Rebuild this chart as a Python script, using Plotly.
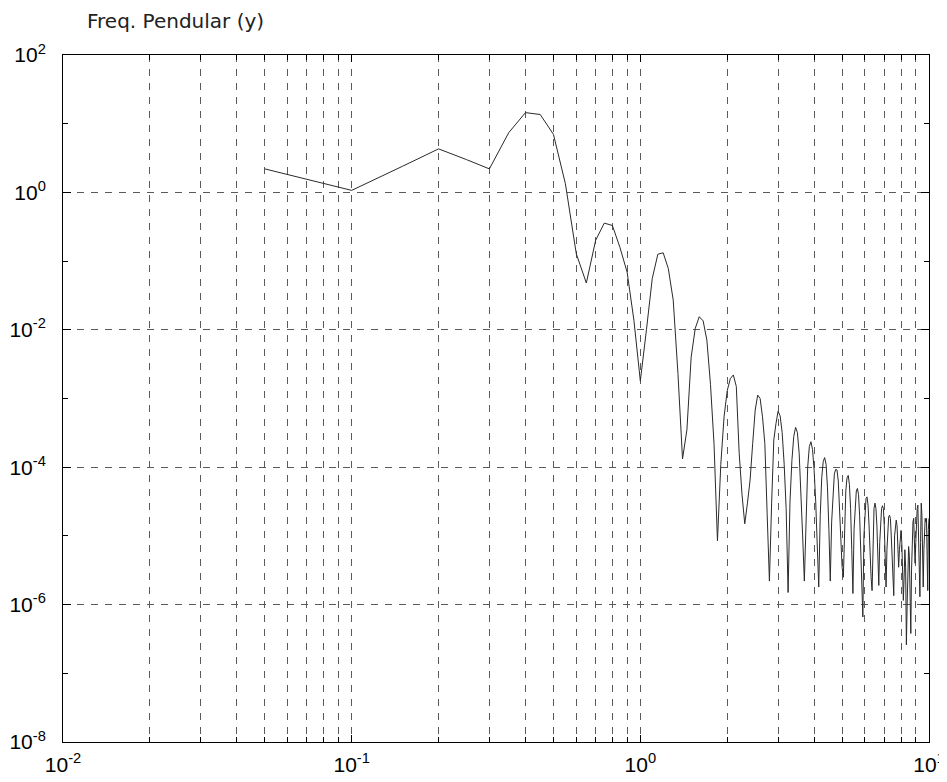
import plotly.graph_objects as go

# frequency samples (Hz)
freq_step = 0.05
freqs = [round(freq_step * k, 2) for k in range(1, 201)]

# amplitude, one per frequency sample
amp_low = [
    2.2, 1.07, 2.4, 4.3, 3.0, 2.2, 7.4, 14.5, 13.6, 7.0,
    1.34, 0.128, 0.048, 0.2, 0.357, 0.33, 0.158, 0.069, 0.0138, 1.8e-3,
    1.0e-2, 0.056, 0.126, 0.132, 0.078, 0.027, 2.3e-3, 1.32e-4, 3.5e-4, 4.0e-3,
    1.05e-2, 1.55e-2, 1.35e-2, 7.1e-3, 1.6e-3, 2.2e-4, 8.5e-6, 1.1e-4, 5.4e-4, 1.3e-3,
    1.95e-3, 2.2e-3, 1.5e-3, 1.6e-4, 4.0e-5, 1.5e-5, 3.0e-5, 6.5e-5, 2.2e-4, 6.8e-4,
]
amp_mid = [
    1.12e-3, 1.0e-3, 5.4e-4, 2.2e-4, 2.1e-5, 2.2e-6, 3.0e-5, 2.5e-4, 4.3e-4, 6.5e-4,
    5.6e-4, 3.2e-4, 1.1e-4, 2.5e-5, 1.5e-6, 3.2e-5, 1.25e-4, 2.8e-4, 3.8e-4, 3.2e-4,
    1.6e-4, 5.0e-5, 1.0e-5, 2.2e-6, 2.5e-5, 1.0e-4, 2.0e-4, 2.35e-4, 1.8e-4, 9.0e-5,
    3.2e-5, 8.0e-6, 1.8e-6, 2.0e-5, 7.0e-5, 1.2e-4, 1.38e-4, 1.1e-4, 5.0e-5, 1.25e-5,
    2.2e-6, 1.6e-5, 4.5e-5, 8.0e-5, 9.3e-5, 9.1e-5, 6.3e-5, 2.5e-5, 6.3e-6, 3.5e-6,
]
amp_high1 = [
    2.5e-6, 1.6e-5, 4.5e-5, 7.0e-5, 7.6e-5, 5.6e-5, 2.5e-5, 6.3e-6, 1.45e-6, 1.25e-5,
    3.2e-5, 4.5e-5, 4.9e-5, 4.0e-5, 2.0e-5, 6.3e-6, 2.0e-6, 6.6e-7, 1.0e-5, 2.5e-5,
    3.5e-5, 3.7e-5, 2.8e-5, 1.4e-5, 5.0e-6, 2.5e-6, 1.6e-6, 1.25e-5, 2.5e-5, 3.0e-5,
    2.5e-5, 1.4e-5, 5.0e-6, 1.9e-6, 8.0e-6, 1.8e-5, 2.5e-5, 2.75e-5, 2.5e-5, 1.4e-5,
    5.0e-6, 1.8e-6, 6.3e-6, 1.4e-5, 1.9e-5, 2.0e-5, 1.8e-5, 1.0e-5, 4.0e-6, 2.0e-6,
]
amp_high2 = [
    1.35e-6, 1.0e-5, 1.6e-5, 1.7e-5, 1.4e-5, 8.0e-6, 3.5e-6, 6.3e-6, 1.1e-5, 1.2e-5,
    8.0e-6, 3.2e-6, 1.15e-6, 2.5e-6, 6.3e-6, 3.5e-6, 2.6e-7, 1.0e-6, 4.5e-6, 7.0e-6,
    5.0e-6, 2.0e-6, 3.8e-7, 3.2e-6, 1.0e-5, 1.6e-5, 1.8e-5, 1.0e-5, 4.0e-6, 8.0e-6,
    1.6e-5, 2.5e-5, 2.8e-5, 1.25e-5, 3.2e-6, 1.3e-6, 8.0e-6, 3.0e-5, 2.0e-5, 6.3e-6,
    1.8e-6, 6.3e-6, 1.25e-5, 1.8e-5, 1.6e-5, 1.8e-5, 5.0e-6, 1.6e-6, 1.25e-5, 1.8e-5,
]
amplitude = amp_low + amp_mid + amp_high1 + amp_high2

title_text = "Freq. Pendular (y)"
x_decades = [-2, -1, 0, 1]
x_minor_decades = [-2, -1, 0]
y_decades = [-8, -6, -4, -2, 0, 2]
y_minor_decades = [-7, -5, -3, -1, 1]

x_tickvals = [10.0 ** d for d in x_decades]
x_ticktext = [f"10<sup>{d}</sup>" for d in x_decades]
x_minorvals = [m * 10.0 ** d for d in x_minor_decades for m in range(2, 10)]

y_tickvals = [10.0 ** d for d in y_decades]
y_ticktext = [f"10<sup>{d}</sup>" for d in y_decades]
y_minorvals = [10.0 ** d for d in y_minor_decades]

font_family = "Liberation Sans, Arial, Helvetica, sans-serif"
grid_color = "#5a5a5a"
grid_dash = "7px,7px"

fig = go.Figure()
fig.add_trace(go.Scatter(
    x=freqs, y=amplitude, mode="lines",
    line=dict(color="#2a2a2a", width=1),
    showlegend=False,
))

# the page body adds an 8px margin, so the figure is sized to fit inside it
fig.update_layout(
    width=939, height=774,
    margin=dict(l=55, r=18, t=47, b=40),
    paper_bgcolor="white", plot_bgcolor="white",
    font=dict(family=font_family, size=21, color="black"),
    annotations=[dict(
        text=title_text, xref="paper", yref="paper",
        x=22 / 866, y=1.0, xanchor="left", yanchor="middle", yshift=34,
        showarrow=False,
        font=dict(family="DejaVu Sans, Liberation Sans, sans-serif", size=20, color="#222"),
    )],
)
fig.update_xaxes(
    type="log", range=[-2, 1], tickmode="array",
    tickvals=x_tickvals, ticktext=x_ticktext,
    ticks="inside", ticklen=7, tickcolor="black",
    showline=True, linecolor="black", linewidth=1, mirror="ticks",
    zeroline=False, automargin=False, ticklabelstandoff=4,
    showgrid=True, gridcolor=grid_color, gridwidth=1, griddash=grid_dash,
    minor=dict(tickvals=x_minorvals, ticks="inside", ticklen=5, tickcolor="black",
               showgrid=True, gridcolor=grid_color, gridwidth=1, griddash=grid_dash),
)
fig.update_yaxes(
    type="log", range=[-8, 2], tickmode="array",
    tickvals=y_tickvals, ticktext=y_ticktext,
    ticks="inside", ticklen=8, tickcolor="black",
    showline=True, linecolor="black", linewidth=1, mirror="ticks",
    zeroline=False, automargin=False, ticklabelstandoff=12,
    showgrid=True, gridcolor=grid_color, gridwidth=1, griddash=grid_dash,
    minor=dict(tickvals=y_minorvals, ticks="inside", ticklen=5,
               tickcolor="black", showgrid=False),
)

fig.write_html("out.html")
